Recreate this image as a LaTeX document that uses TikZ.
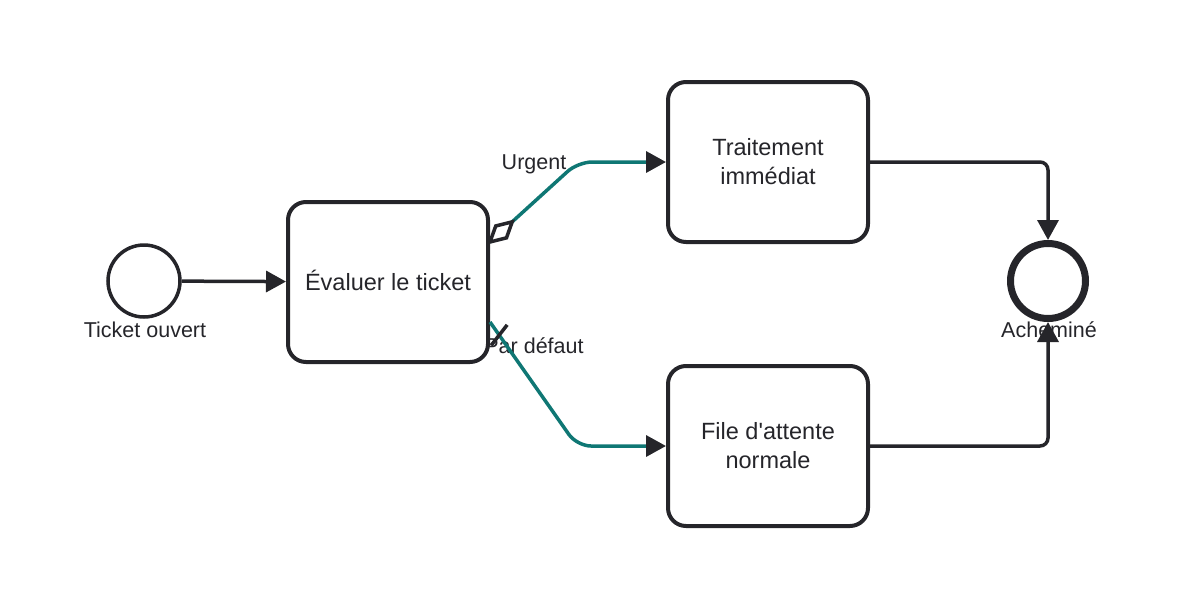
\documentclass[tikz,border=0pt]{standalone}
\usepackage{fontspec}
\setmainfont{Liberation Sans}
\usetikzlibrary{arrows.meta,calc}
\definecolor{ink}{HTML}{25252A}
\definecolor{teal}{HTML}{0F7774}
\tikzset{
  task/.style={draw=ink, line width=4pt, rounded corners=18pt, minimum width=200pt, minimum height=160pt, align=center, text=ink, font=\fontsize{23.5}{29}\selectfont, inner sep=0pt},
  startev/.style={draw=ink, circle, line width=3.5pt, minimum size=72pt, inner sep=0pt},
  endev/.style={draw=ink, circle, line width=7pt, minimum size=75pt, inner sep=0pt},
  lbl/.style={text=ink, font=\fontsize{21.5}{26}\selectfont, inner sep=0pt},
  flow/.style={draw=ink, line width=3.5pt, -{Triangle[length=20pt,width=21pt]}},
  cond/.style={draw=teal, line width=3.5pt, rounded corners=14pt, -{Triangle[length=20pt,width=21pt,color=ink]}},
  marker/.style={draw=ink, line width=3.5pt, line join=miter},
}
\begin{document}
\begin{tikzpicture}[x=1pt,y=-1pt]
\useasboundingbox (0,0) rectangle (1180,608);
% labels
\node[lbl] (startlbl) at (145,330) {Ticket ouvert};
\node[lbl] (endlbl) at (1049,330) {Acheminé};
\node[lbl] (urglbl) at (534,164) {Urgent};
\node[lbl] (deflbl) at (534,346) {Par défaut};
% nodes
\node[startev] (start) at (144,281) {};
\node[task, text depth=0pt] (eval) at (388,282) {\raisebox{3pt}{Évaluer le ticket}};
\node[task] (trait) at (768,162) {Traitement\\immédiat};
\node[task] (file) at (768,446) {File d\textquotesingle attente\\normale};
\node[endev] (end) at (1048,281) {};
% connectors
\draw[flow] (start) -- (eval);
\coordinate (u0) at ($(eval.east)+(0,-40)$);
\coordinate (ubend) at (578,162);
\coordinate (d0) at ($(eval.east)+(0,40)$);
\coordinate (dbend) at (577,446);
\draw[cond] (u0) -- (ubend) -- (trait.west);
\draw[cond] (d0) -- (dbend) -- (file.west);
% conditional diamond
\coordinate (um) at ($(u0)!15pt!(ubend)$);
\draw[marker, fill=white] (u0) -- ($(um)!8pt!90:(ubend)$) -- ($(u0)!30pt!(ubend)$) -- ($(um)!8pt!-90:(ubend)$) -- cycle;
% default slash
\coordinate (dm) at ($(d0)!16pt!(dbend)$);
\draw[marker] ($(dm)!13pt!107:(dbend)$) -- ($(dm)!13pt!-73:(dbend)$);
\draw[flow, rounded corners=8pt] (trait.east) -| (end.north);
\draw[flow, rounded corners=8pt] (file.east) -| (end.south);
\end{tikzpicture}
\end{document}
